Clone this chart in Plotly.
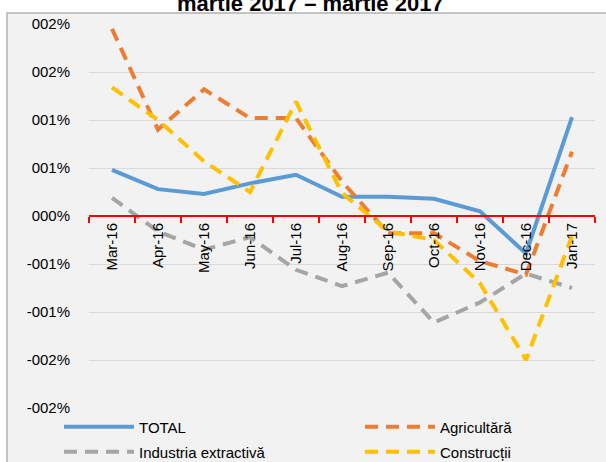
import plotly.graph_objects as go

months = ["Mar-16", "Apr-16", "May-16", "Jun-16", "Jul-16", "Aug-16",
          "Sep-16", "Oct-16", "Nov-16", "Dec-16", "Jan-17"]
total = [0.48, 0.28, 0.23, 0.34, 0.43, 0.20, 0.20, 0.18, 0.05, -0.39, 1.03]
agricultura = [1.95, 0.90, 1.32, 1.02, 1.02, 0.36, -0.18, -0.18, -0.47, -0.61, 0.67]
industria = [0.19, -0.16, -0.35, -0.22, -0.56, -0.73, -0.59, -1.11, -0.90, -0.60, -0.75]
constructii = [1.34, 1.00, 0.57, 0.25, 1.19, 0.24, -0.16, -0.25, -0.70, -1.50, -0.21]

ytick_vals = [2.0, 1.5, 1.0, 0.5, 0.0, -0.5, -1.0, -1.5, -2.0]
ytick_text = ["002%", "002%", "001%", "001%", "000%", "-001%", "-001%", "-002%", "-002%"]

FONT = "Liberation Sans, Arial, sans-serif"
dash = "13px,8px"

fig = go.Figure()
fig.add_trace(go.Scatter(x=months, y=total, name="TOTAL", mode="lines",
                         line=dict(color="#5b9bd5", width=4), legend="legend"))
fig.add_trace(go.Scatter(x=months, y=agricultura, name="Agricultără", mode="lines",
                         line=dict(color="#ed7d31", width=4, dash=dash), legend="legend2"))
fig.add_trace(go.Scatter(x=months, y=industria, name="Industria extractivă", mode="lines",
                         line=dict(color="#a5a5a5", width=4, dash=dash), legend="legend3"))
fig.add_trace(go.Scatter(x=months, y=constructii, name="Construcții", mode="lines",
                         line=dict(color="#ffc000", width=4, dash=dash), legend="legend4"))

W, H = 606, 462
L, R, T, B = 89, 11, 24, 54
pw, ph = W - L - R, H - T - B

def px_x(p):
    return (p - L) / pw

def px_y(p):
    return (H - B - p) / ph

legend_common = dict(orientation="h", xanchor="left", yanchor="middle",
                     bgcolor="rgba(0,0,0,0)", itemwidth=70,
                     font=dict(family=FONT, size=15, color="#000000"),
                     itemclick=False)

fig.update_layout(
    width=W, height=H,
    margin=dict(l=L, r=R, t=T, b=B, autoexpand=False),
    paper_bgcolor="#ffffff",
    plot_bgcolor="#f2f2f2",
    showlegend=True,
    font=dict(family=FONT, size=15, color="#000000"),
    legend=dict(x=px_x(59), y=px_y(427), **legend_common),
    legend2=dict(x=px_x(360), y=px_y(427), **legend_common),
    legend3=dict(x=px_x(59), y=px_y(452), **legend_common),
    legend4=dict(x=px_x(360), y=px_y(452), **legend_common),
    xaxis=dict(type="category", range=[-0.5, len(months) - 0.5],
               anchor="free", position=0.5,
               showline=True, linecolor="#ff0000", linewidth=2,
               ticks="outside", tickson="boundaries", ticklen=6, tickwidth=2,
               tickcolor="#ff0000", tickangle=-90, showgrid=False, zeroline=False,
               tickfont=dict(family=FONT, size=15, color="#000000")),
    yaxis=dict(range=[-2.0, 2.0], tickvals=ytick_vals, ticktext=ytick_text,
               showgrid=True, gridcolor="#d9d9d9", gridwidth=1, zeroline=False,
               showline=False, ticks="outside", ticklen=15, tickcolor="rgba(0,0,0,0)",
               tickfont=dict(family=FONT, size=15, color="#000000")),
    shapes=[dict(type="rect", xref="paper", yref="paper",
                 x0=px_x(7), x1=px_x(620), y0=px_y(475), y1=px_y(13),
                 line=dict(color="#b3b3b3", width=1.5), fillcolor="#f2f2f2",
                 layer="below")],
    annotations=[dict(text="<b>martie 2017 – martie 2017</b>", xref="paper", yref="paper",
                      x=px_x(310), y=px_y(18), xanchor="center", yanchor="bottom",
                      showarrow=False,
                      font=dict(family=FONT, size=22, color="#000000"))],
)

fig.write_html("out.html",
               config={"displayModeBar": False},
               post_script="document.body.style.margin='0';document.body.style.overflow='hidden';")
